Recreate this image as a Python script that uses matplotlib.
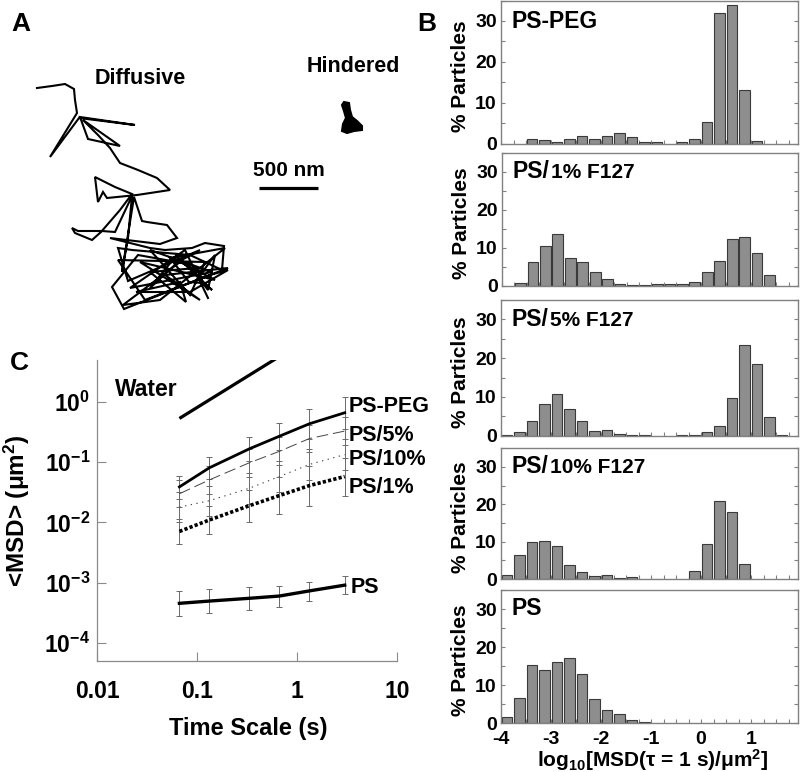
import numpy as np
import matplotlib
matplotlib.use('Agg')
import matplotlib.pyplot as plt
from matplotlib.ticker import FixedLocator, FixedFormatter, NullLocator, MultipleLocator

plt.rcParams['font.family'] = ['Liberation Sans', 'DejaVu Sans']
plt.rcParams['font.weight'] = 'bold'
plt.rcParams['axes.labelweight'] = 'bold'
plt.rcParams['mathtext.fontset'] = 'custom'
plt.rcParams['mathtext.rm'] = 'Liberation Sans:bold'
plt.rcParams['mathtext.it'] = 'Liberation Sans:bold'
plt.rcParams['mathtext.bf'] = 'Liberation Sans:bold'
plt.rcParams['mathtext.default'] = 'rm'

# ---------------- data ----------------
# Panel A: particle trajectories (digitised units, 59.3 units = 500 nm)
NM_PER_UNIT = 500 / 59.3
diff_x = [37, 52, 65, 74, 75, 77, 50, 79, 135, 80, 88, 120, 83, 98, 110, 120, 138, 157, 170, 137,
          107, 103, 98, 95, 115, 132, 120, 101, 92, 75, 72, 78, 102, 115, 132, 128, 122, 134, 142, 147,
          167, 177, 160, 110, 150, 165, 192, 205, 224, 222, 190, 132, 118, 128, 200, 178, 150, 176, 212, 198,
          215, 208, 188, 138, 112, 124, 210, 228, 190, 136, 180, 186, 150, 197, 203, 189, 170,
          225, 160, 123, 180, 215, 140, 200, 165, 228, 145, 118, 205, 190, 150, 212, 130, 185, 208]
diff_y = [88, 86, 84, 89, 100, 113, 157, 118, 125, 117, 139, 146, 120, 135, 148, 163, 170, 178, 190, 195,
          198, 192, 202, 177, 187, 194, 210, 232, 240, 233, 228, 231, 231, 232, 196, 238, 272, 197, 221, 222,
          225, 238, 244, 238, 248, 250, 248, 243, 246, 270, 255, 250, 248, 281, 250, 262, 288, 256, 290, 278,
          255, 290, 264, 255, 287, 309, 275, 270, 292, 292, 282, 302, 272, 268, 283, 282, 258,
          248, 300, 305, 262, 280, 262, 300, 275, 268, 300, 260, 262, 295, 250, 272, 288, 250, 298]
hind_x = [344, 349, 350, 352, 357, 362, 362, 354, 347, 342, 343, 346, 344, 342]
hind_y = [102, 103, 110, 117, 121, 126, 130, 131, 133, 131, 124, 118, 111, 105]
scale_bar_nm = 500

# Panel C: ensemble MSD vs time scale
tau = [0.0667, 0.133, 0.333, 0.667, 1.33, 3.0]
water_tau = [0.0667, 0.62]
water_msd = [0.535, 5.3]
msd_peg = [0.039, 0.081, 0.167, 0.271, 0.436, 0.665]
msd_peg_hi = [0.060, 0.123, 0.265, 0.454, 0.776, 1.23]
msd_peg_lo = [0.025, 0.053, 0.105, 0.162, 0.245, 0.36]
msd_f5 = [0.030, 0.051, 0.098, 0.152, 0.248, 0.33]
msd_f5_hi = [0.051, 0.087, 0.167, 0.258, 0.42, 0.56]
msd_f5_lo = [0.018, 0.030, 0.058, 0.089, 0.146, 0.194]
msd_f10 = [0.018, 0.023, 0.037, 0.058, 0.092, 0.134]
msd_f10_hi = [0.032, 0.041, 0.067, 0.104, 0.166, 0.24]
msd_f10_lo = [0.010, 0.0128, 0.0206, 0.032, 0.051, 0.074]
msd_f1 = [0.0071, 0.011, 0.019, 0.028, 0.041, 0.058]
msd_f1_hi = [0.0115, 0.0186, 0.035, 0.056, 0.088, 0.12]
msd_f1_lo = [0.0044, 0.0065, 0.0102, 0.0139, 0.019, 0.028]
msd_ps = [0.000454, 0.000495, 0.00055, 0.0006, 0.00073, 0.00091]
msd_ps_hi = [0.000736, 0.000776, 0.000838, 0.000891, 0.001016, 0.001294]
msd_ps_lo = [0.000282, 0.000309, 0.000351, 0.000389, 0.000495, 0.000648]
c_xticks = [0.01, 0.1, 1, 10]
c_xticklabels = ['0.01', '0.1', '1', '10']
c_yticks = [1e0, 1e-1, 1e-2, 1e-3, 1e-4]
c_yticklabels = [r'$10^{0}$', r'$10^{-1}$', r'$10^{-2}$', r'$10^{-3}$', r'$10^{-4}$']

# Panel B: histograms of log10 MSD(1 s), bin left edges
bin_edges = [-4.0, -3.75, -3.5, -3.25, -3.0, -2.75, -2.5, -2.25, -2.0, -1.75, -1.5, -1.25,
             -1.0, -0.75, -0.5, -0.25, 0.0, 0.25, 0.5, 0.75, 1.0, 1.25, 1.5, 1.75]
hist_peg = [0, 0, 1.06, 1.0, 0.4, 1.2, 2.0, 1.1, 2.0, 2.7, 1.7, 0.4,
            0.4, 0, 0.4, 1.1, 5.2, 31.9, 33.9, 13.2, 0.65, 0, 0, 0]
hist_f1 = [0, 0.6, 6.25, 10.4, 13.75, 7.3, 6.25, 3.6, 1.8, 0.45, 0.3, 0.3,
           0.45, 0.45, 0.4, 1.1, 3.6, 6.6, 12.2, 12.9, 8.7, 2.8, 0, 0]
hist_f5 = [0.15, 1.0, 3.7, 8.3, 10.8, 6.9, 3.7, 1.1, 1.4, 0.35, 0.1, 0.1,
           0, 0, 0.1, 0.1, 0.85, 2.6, 9.8, 23.4, 18.5, 4.8, 0.1, 0]
hist_f10 = [1.06, 6.4, 9.8, 10.3, 8.85, 3.7, 2.0, 0.8, 1.06, 0.35, 0.5, 0,
            0.1, 0, 0, 2.1, 9.3, 21.0, 17.9, 4.0, 0, 0, 0, 0]
hist_ps = [1.55, 6.6, 15.3, 14.0, 16.1, 17.2, 12.8, 6.3, 3.4, 2.3, 0.9, 0.3,
           0, 0, 0, 0, 0, 0, 0.1, 0, 0, 0, 0, 0]
hist_titles = [('PS-PEG', ''), ('PS/', '1% F127'), ('PS/', '5% F127'), ('PS/', '10% F127'), ('PS', '')]
hist_series = [hist_peg, hist_f1, hist_f5, hist_f10, hist_ps]
b_xticks = [-4, -3, -2, -1, 0, 1]
b_xticklabels = ['-4', '-3', '-2', '-1', '0', '1']

# ---------------- layout ----------------
W, H = 800, 772
fig = plt.figure(figsize=(W / 100, H / 100), dpi=100)


def rect(l, t, r, b):
    return [l / W, 1 - b / H, (r - l) / W, (b - t) / H]


# Panel A
ax_a = fig.add_axes(rect(0, 40, 400, 340))
ax_a.set_xlim(0, 400 * NM_PER_UNIT)
ax_a.set_ylim(340 * NM_PER_UNIT, 40 * NM_PER_UNIT)
ax_a.axis('off')
dx = np.array(diff_x) * NM_PER_UNIT
dy = np.array(diff_y) * NM_PER_UNIT
ax_a.plot(dx, dy, color='black', lw=1.5, solid_joinstyle='miter')
hx = np.array(hind_x) * NM_PER_UNIT
hy = np.array(hind_y) * NM_PER_UNIT
ax_a.fill(hx, hy, color='black', lw=1.5)
sb_x0 = 259 * NM_PER_UNIT
sb_y = 187.5 * NM_PER_UNIT
ax_a.plot([sb_x0, sb_x0 + scale_bar_nm], [sb_y, sb_y], color='black', lw=2.3, solid_capstyle='butt')
ax_a.text(140 * NM_PER_UNIT, 84 * NM_PER_UNIT, 'Diffusive', fontsize=15.5, ha='center', va='baseline')
ax_a.text(353 * NM_PER_UNIT, 72 * NM_PER_UNIT, 'Hindered', fontsize=15.5, ha='center', va='baseline')
ax_a.text(sb_x0 + scale_bar_nm / 2, 175.5 * NM_PER_UNIT, '500 nm', fontsize=15, ha='center', va='baseline')

# Panel C
ax_c = fig.add_axes(rect(97, 360, 397, 661))
ax_c.set_xscale('log')
ax_c.set_yscale('log')
ax_c.set_xlim(0.01, 10)
ax_c.set_ylim(5e-5, 5)
for s in ['top', 'right']:
    ax_c.spines[s].set_visible(False)
for s in ['left', 'bottom']:
    ax_c.spines[s].set_color('#8a8a8a')
    ax_c.spines[s].set_linewidth(0.9)
ax_c.xaxis.set_major_locator(FixedLocator(c_xticks))
ax_c.xaxis.set_major_formatter(FixedFormatter(c_xticklabels))
ax_c.yaxis.set_major_locator(FixedLocator(c_yticks))
ax_c.yaxis.set_major_formatter(FixedFormatter(c_yticklabels))
ax_c.xaxis.set_minor_locator(NullLocator())
ax_c.yaxis.set_minor_locator(NullLocator())
ax_c.tick_params(axis='both', which='major', direction='in', length=6.5, width=0.8,
                 color='#8a8a8a', labelsize=16.5)
ax_c.tick_params(axis='x', pad=14)
ax_c.tick_params(axis='y', pad=5)

err_kw = dict(fmt='none', ecolor='#6a6a6a', elinewidth=0.7, capsize=2.5, capthick=0.7, zorder=1)
for vals, lo, hi in [(msd_peg, msd_peg_lo, msd_peg_hi), (msd_f5, msd_f5_lo, msd_f5_hi),
                     (msd_f10, msd_f10_lo, msd_f10_hi), (msd_f1, msd_f1_lo, msd_f1_hi),
                     (msd_ps, msd_ps_lo, msd_ps_hi)]:
    v = np.array(vals)
    ax_c.errorbar(tau, v, yerr=[v - np.array(lo), np.array(hi) - v], **err_kw)

ax_c.plot(water_tau, water_msd, color='black', lw=2.3, solid_capstyle='butt', zorder=3)
ax_c.plot(tau, msd_peg, color='black', lw=2.0, zorder=3)
ax_c.plot(tau, msd_f5, color='#444444', lw=0.7, ls=(0, (12, 5)), zorder=3)
ax_c.plot(tau, msd_f10, color='#444444', lw=0.8, ls=(0, (1.2, 4)), zorder=3)
ax_c.plot(tau, msd_f1, color='black', lw=2.6, ls=(0, (0.9, 0.6)), dash_capstyle='butt', zorder=3)
ax_c.plot(tau, msd_ps, color='black', lw=2.4, zorder=3)

lab_fs = 15.5
ax_c.text(0.0151, 1.245, 'Water', fontsize=16.5, ha='left', va='baseline')
ax_c.text(3.26, 0.673, 'PS-PEG', fontsize=lab_fs, ha='left', va='baseline')
ax_c.text(3.26, 0.224, 'PS/5%', fontsize=lab_fs, ha='left', va='baseline')
ax_c.text(3.26, 0.0916, 'PS/10%', fontsize=lab_fs, ha='left', va='baseline')
ax_c.text(3.30, 0.0309, 'PS/1%', fontsize=lab_fs, ha='left', va='baseline')
ax_c.text(3.40, 0.00068, 'PS', fontsize=lab_fs, ha='left', va='baseline')

ax_c.set_xlabel('Time Scale (s)', fontsize=17)
ax_c.xaxis.set_label_coords(0.503, -0.186)
ax_c.set_ylabel(r'<MSD> ($\mu$m$^2$)', fontsize=17.5)
ax_c.yaxis.set_label_coords(-0.215, 0.5)

# Panel B histograms
panel_rects = [(501, 0.5, 798, 143.7), (502, 153, 798, 285.7), (501, 300, 798, 435.7),
               (501, 448.3, 798, 579), (501, 590, 798, 723)]
hist_axes = []
for i, (r, vals, (t_big, t_small)) in enumerate(zip(panel_rects, hist_series, hist_titles)):
    ax = fig.add_axes(rect(*r))
    hist_axes.append(ax)
    x = np.array(bin_edges)
    v = np.array(vals, dtype=float)
    m = v > 0
    ax.bar(x[m] + 0.012, v[m], width=0.215, align='edge', color='#8e8e8e',
           edgecolor='#3a3a3a', linewidth=0.8, zorder=2)
    ax.set_xlim(-4, 1.94)
    ax.set_ylim(0, 35)
    for s in ax.spines.values():
        s.set_color('#808080')
        s.set_linewidth(1.0)
    ax.yaxis.set_major_locator(FixedLocator([0, 10, 20, 30]))
    ax.yaxis.set_minor_locator(MultipleLocator(5))
    ax.xaxis.set_major_locator(FixedLocator(b_xticks))
    ax.xaxis.set_major_formatter(FixedFormatter(b_xticklabels))
    ax.xaxis.set_minor_locator(MultipleLocator(0.25))
    ax.tick_params(axis='both', which='both', direction='in', length=2.8, width=0.8,
                   color='#808080', top=False, right=True, labelsize=14)
    ax.tick_params(axis='y', pad=3)
    ax.tick_params(axis='x', pad=6, labelsize=14)
    if i < 4:
        ax.tick_params(axis='x', labelbottom=False)
    ax.set_ylabel('% Particles', fontsize=15)
    ax.yaxis.set_label_coords(-0.105, 0.47)
    ax.text(0.036, 0.81, t_big, transform=ax.transAxes, fontsize=16.5, ha='left', va='baseline')

hist_axes[-1].set_xlabel(r'log$_{10}$[MSD($\tau$ = 1 s)/$\mu$m$^{2}$]', fontsize=15)
hist_axes[-1].xaxis.set_label_coords(0.51, -0.18)

# small second part of the panel titles
fig.canvas.draw()
for ax, (t_big, t_small) in zip(hist_axes, hist_titles):
    if t_small:
        t1 = ax.texts[0]
        bb = t1.get_window_extent()
        xa = ax.transAxes.inverted().transform((bb.x1, bb.y0))[0]
        ax.text(xa + 0.005, 0.81, t_small, transform=ax.transAxes, fontsize=15, ha='left', va='baseline')

# panel letters
fig.text(11 / W, 1 - 31 / H, 'A', fontsize=19, ha='left', va='baseline')
fig.text(417 / W, 1 - 31 / H, 'B', fontsize=19, ha='left', va='baseline')
fig.text(10 / W, 1 - 370 / H, 'C', fontsize=19, ha='left', va='baseline')

fig.savefig('out.png', dpi=100)
